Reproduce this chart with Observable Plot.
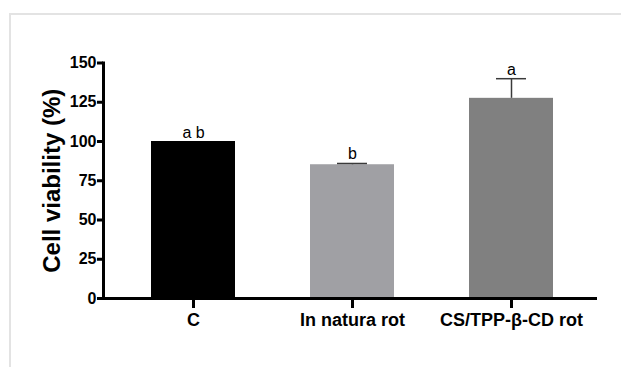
<!DOCTYPE html>
<html>
<head>
<meta charset="utf-8">
<script src="https://cdn.jsdelivr.net/npm/d3@7"></script>
<script src="https://cdn.jsdelivr.net/npm/@observablehq/plot@0.6"></script>
<style>
  html, body { margin: 0; padding: 0; background: #fff; }
  #wrap { position: relative; width: 621px; height: 367px; overflow: hidden; }
  #border { position: absolute; left: 9px; top: 13px; right: -5px; bottom: -5px;
            border-top: 2px solid #e3e3e3; border-left: 2px solid #e3e3e3; }
  #chart { position: absolute; left: 0; top: 0; }
  svg { font-family: "Liberation Sans", Arial, sans-serif; }
</style>
</head>
<body>
<div id="wrap"><div id="border"></div><div id="chart"></div></div>
<script>
const categories = ["C", "In natura rot", "CS/TPP-β-CD rot"];
const means = [100, 85.2, 127.5];
const errors = [0, 0.8, 12.5];
const letters = ["a b", "b", "a"];
const colors = ["#000000", "#a0a0a4", "#808080"];
const yTicks = [0, 25, 50, 75, 100, 125, 150];

const data = categories.map((c, i) => ({cat: c, mean: means[i], err: errors[i], top: means[i] + errors[i], letter: letters[i]}));
const withErr = data.filter(d => d.err > 0);

const chart = Plot.plot({
  width: 621,
  height: 367,
  marginLeft: 103,
  marginRight: 19.5,
  marginTop: 62.5,
  marginBottom: 69,
  style: {fontFamily: "Liberation Sans, Arial, sans-serif", background: "transparent"},
  x: {domain: categories, paddingInner: 0.469, paddingOuter: 0.302, label: null},
  y: {domain: [0, 150], label: null},
  color: {domain: categories, range: colors},
  marks: [
    Plot.barY(data, {x: "cat", y: "mean", fill: "cat"}),
    Plot.ruleX(withErr, {x: "cat", y1: "mean", y2: "top", stroke: "#3a3a3a", strokeWidth: 1.5}),
    Plot.tickY(withErr, {x: "cat", y: "top", stroke: "#3a3a3a", strokeWidth: 1.5, insetLeft: 27, insetRight: 27}),
    Plot.text(data, {x: "cat", y: "top", text: "letter", dy: -4, lineAnchor: "bottom", fontSize: 16, fill: "#000"}),
    Plot.axisY({ticks: yTicks, tickSize: 6, tickPadding: 1, strokeWidth: 3, fontSize: 16, fontWeight: "bold", fill: "#000", label: null}),
    Plot.axisX({tickSize: 10, tickPadding: 5, strokeWidth: 3, fontSize: 18, fontWeight: "bold", fill: "#000", label: null}),
    Plot.frame({anchor: "left", strokeWidth: 3, stroke: "#000"}),
    Plot.ruleY([0], {strokeWidth: 3, stroke: "#000", insetRight: 4.5}),
    Plot.text(["Cell viability (%)"], {frameAnchor: "left", dx: -51, rotate: -90, fontSize: 24, fontWeight: "bold", fill: "#000", textAnchor: "middle", dy: 0})
  ]
});
document.getElementById("chart").appendChild(chart);
</script>
</body>
</html>
